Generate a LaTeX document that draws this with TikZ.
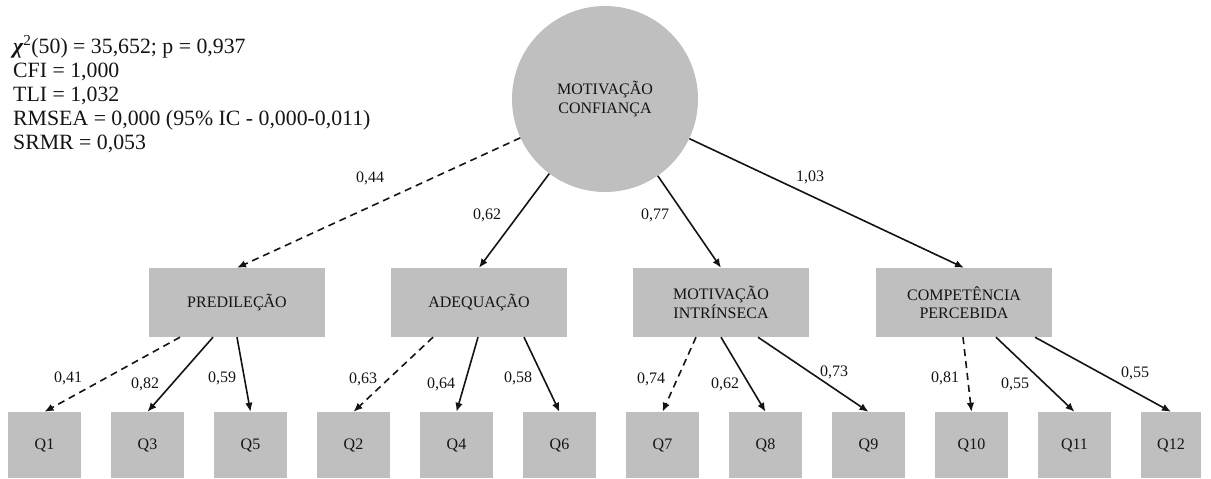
\documentclass[tikz,border=0pt]{standalone}
\usepackage{fontspec}
\setmainfont{Liberation Serif}
\usetikzlibrary{arrows.meta}

\definecolor{boxgray}{RGB}{191,191,191}
\definecolor{ink}{RGB}{20,20,20}

\begin{document}
\begin{tikzpicture}[x=1pt,y=-1pt,
  lbl/.style={font=\fontsize{16}{18.5}\selectfont, text=ink, inner sep=0pt},
  factor/.style={lbl, circle, fill=boxgray, minimum size=186pt, align=center},
  latent/.style={lbl, fill=boxgray, minimum width=176pt, minimum height=69pt, align=center},
  item/.style={lbl, fill=boxgray, minimum width=73pt, minimum height=66pt},
  load/.style={ink, line width=1.6pt, -{Latex[length=9pt,width=7.5pt]}},
  weakload/.style={load, dash pattern=on 7pt off 5pt},
  coef/.style={lbl},
  fitstat/.style={font=\fontsize{21.8}{24.3}\selectfont, text=ink, inner sep=0pt, anchor=base west}]

\useasboundingbox (0,0) rectangle (1211,479);

% fit indices
\node[fitstat] (s1) at (13,53) {{\bfseries\itshape χ}\textsuperscript{2}(50) = 35,652; p = 0,937};
\node[fitstat] (s2) at (13,77) {CFI = 1,000};
\node[fitstat] (s3) at (13,101) {TLI = 1,032};
\node[fitstat] (s4) at (13,125) {RMSEA = 0,000 (95\% IC - 0,000-0,011)};
\node[fitstat] (s5) at (13,149) {SRMR = 0,053};

% second-order factor
\node[factor] (mc) at (605,99) {MOTIVAÇÃO\\CONFIANÇA};

% first-order factors
\node[latent] (pred) at (237,302.5) {PREDILEÇÃO};
\node[latent] (adeq) at (479,302.5) {ADEQUAÇÃO};
\node[latent] (mi)   at (721,302.5) {MOTIVAÇÃO\\INTRÍNSECA};
\node[latent] (cp)   at (964,302.5) {COMPETÊNCIA\\PERCEBIDA};

% items
\node[item] (q1)  at (44.5,445)  {Q1};
\node[item] (q3)  at (147.5,445) {Q3};
\node[item] (q5)  at (250.5,445) {Q5};
\node[item] (q2)  at (353.5,445) {Q2};
\node[item] (q4)  at (456.5,445) {Q4};
\node[item] (q6)  at (559.5,445) {Q6};
\node[item] (q7)  at (662.5,445) {Q7};
\node[item] (q8)  at (765.5,445) {Q8};
\node[item] (q9)  at (868.5,445) {Q9};
\node[item] (q10) at (971.5,445) {Q10};
\node[item] (q11) at (1074.5,445) {Q11};
\node[item, minimum width=60pt] (q12) at (1171,445) {Q12};

% second-order loadings
\draw[weakload] (mc) -- (pred.north);
\draw[load] (mc) -- (adeq.north);
\draw[load] (mc) -- (mi.north);
\draw[load] (mc) -- (cp.north);

\node[coef] (c1) at (370,178) {0,44};
\node[coef] (c2) at (487,215) {0,62};
\node[coef] (c3) at (655,215) {0,77};
\node[coef] (c4) at (810,177) {1,03};

% first-order loadings
\draw[weakload] ([xshift=-57pt]pred.south) -- (q1.north);
\draw[load] ([xshift=-24pt]pred.south) -- (q3.north);
\draw[load] (pred.south) -- (q5.north);

\draw[weakload] ([xshift=-46pt]adeq.south) -- (q2.north);
\draw[load] ([xshift=-1pt]adeq.south) -- (q4.north);
\draw[load] ([xshift=45pt]adeq.south) -- (q6.north);

\draw[weakload] ([xshift=-25pt]mi.south) -- (q7.north);
\draw[load] (mi.south) -- (q8.north);
\draw[load] ([xshift=37pt]mi.south) -- (q9.north);

\draw[weakload] ([xshift=-1pt]cp.south) -- (q10.north);
\draw[load] ([xshift=32pt]cp.south) -- (q11.north);
\draw[load] ([xshift=71pt]cp.south) -- (q12.north);

\node[coef] (d1)  at (68,378)   {0,41};
\node[coef] (d2)  at (145,384)  {0,82};
\node[coef] (d3)  at (222,378)  {0,59};
\node[coef] (d4)  at (363,379)  {0,63};
\node[coef] (d5)  at (441,384)  {0,64};
\node[coef] (d6)  at (518,378)  {0,58};
\node[coef] (d7)  at (651,379)  {0,74};
\node[coef] (d8)  at (725,384)  {0,62};
\node[coef] (d9)  at (834,372)  {0,73};
\node[coef] (d10) at (945,378)  {0,81};
\node[coef] (d11) at (1015,384) {0,55};
\node[coef] (d12) at (1135,373) {0,55};
\end{tikzpicture}
\end{document}
